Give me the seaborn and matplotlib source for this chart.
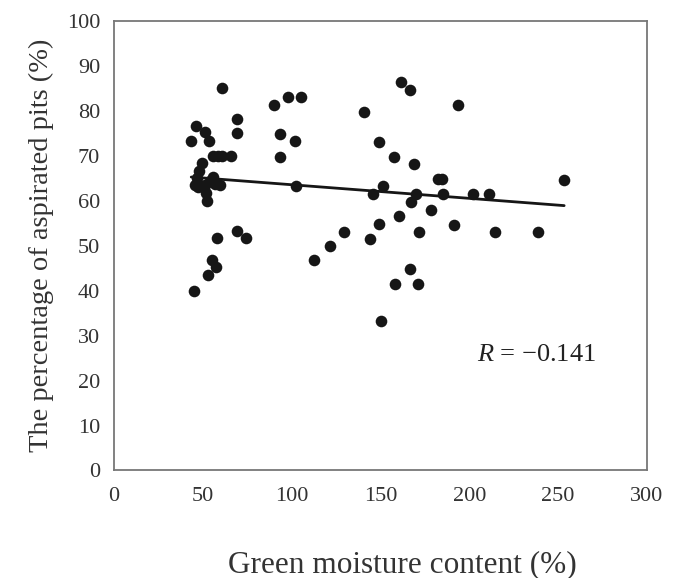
import numpy as np
import pandas as pd
import matplotlib
matplotlib.use("Agg")
import matplotlib.pyplot as plt
import seaborn as sns

# green moisture content (%) and aspirated pits (%)
moisture = [43.5, 46.3, 51.0, 53.6, 49.5, 47.6, 46.5, 45.5, 47.5, 51.2,
            52.0, 52.1, 55.5, 57.0, 59.5, 54.0, 56.0, 58.5, 61.0, 65.8,
            60.8, 69.0, 69.0, 69.0, 74.4, 58.2, 55.2, 57.5, 53.0, 44.8,
            90.0, 98.2, 105.3, 93.2, 93.2, 101.7, 102.2, 112.8, 121.6, 129.3,
            140.5, 143.9, 145.8, 149.0, 149.4, 151.6, 150.3, 157.9, 158.1, 160.7,
            161.4, 166.6, 167.0, 166.9, 169.0, 169.8, 171.5, 171.3, 178.3, 182.4,
            184.8, 185.3, 191.2, 193.5, 201.9, 211.3, 214.5, 238.5, 253.4]
aspirated = [73.3, 76.6, 75.2, 73.3, 68.3, 66.7, 65.0, 63.5, 63.0, 63.4,
             61.7, 59.9, 65.2, 63.6, 63.4, 64.3, 70.0, 70.0, 70.0, 69.9,
             85.0, 78.2, 75.0, 53.3, 51.6, 51.6, 46.8, 45.2, 43.4, 40.0,
             81.3, 83.1, 83.1, 74.8, 69.8, 73.2, 63.3, 46.7, 49.9, 53.0,
             79.7, 51.5, 61.5, 73.1, 54.8, 63.2, 33.2, 69.7, 41.5, 56.5,
             86.4, 84.6, 59.8, 44.7, 68.1, 61.5, 53.0, 41.5, 58.0, 64.8,
             64.8, 61.5, 54.7, 81.3, 61.5, 61.5, 53.0, 53.0, 64.6]
r_text = "$R$ = \u22120.141"

df = pd.DataFrame({"moisture": moisture, "aspirated": aspirated})

sns.set_style("white")
plt.rcParams["font.family"] = ["Liberation Serif", "DejaVu Serif"]
plt.rcParams["mathtext.fontset"] = "custom"
plt.rcParams["mathtext.it"] = "Liberation Serif:italic"
plt.rcParams["mathtext.rm"] = "Liberation Serif"

fig = plt.figure(figsize=(6.76, 5.78), dpi=100)
ax = fig.add_axes([0.1686, 0.186, 0.7884, 0.778])

# scatter plus least-squares line
sns.regplot(data=df, x="moisture", y="aspirated", ax=ax, ci=None,
            scatter_kws={"s": 70, "color": "#161616", "alpha": 1, "linewidths": 0},
            line_kws={"color": "#161616", "lw": 2})

ax.set_xlim(0, 300)
ax.set_ylim(0, 100)
ax.set_xticks(range(0, 301, 50))
ax.set_yticks(range(0, 101, 10))
ax.tick_params(axis="both", length=0, labelsize=16, colors="#333333")
ax.tick_params(axis="x", pad=12)
ax.tick_params(axis="y", pad=10)
for s in ax.spines.values():
    s.set_color("#777777")
    s.set_linewidth(1.3)

ax.set_xlabel("Green moisture content (%)", fontsize=22.5, color="#333333")
ax.xaxis.set_label_coords(0.542, -0.178)
ax.set_ylabel("The percentage of aspirated pits (%)", fontsize=20.5, color="#333333", labelpad=9)
ax.text(238, 25.7, r_text, fontsize=19, color="#222222", ha="center", va="center")

fig.savefig("out.png", dpi=100)
